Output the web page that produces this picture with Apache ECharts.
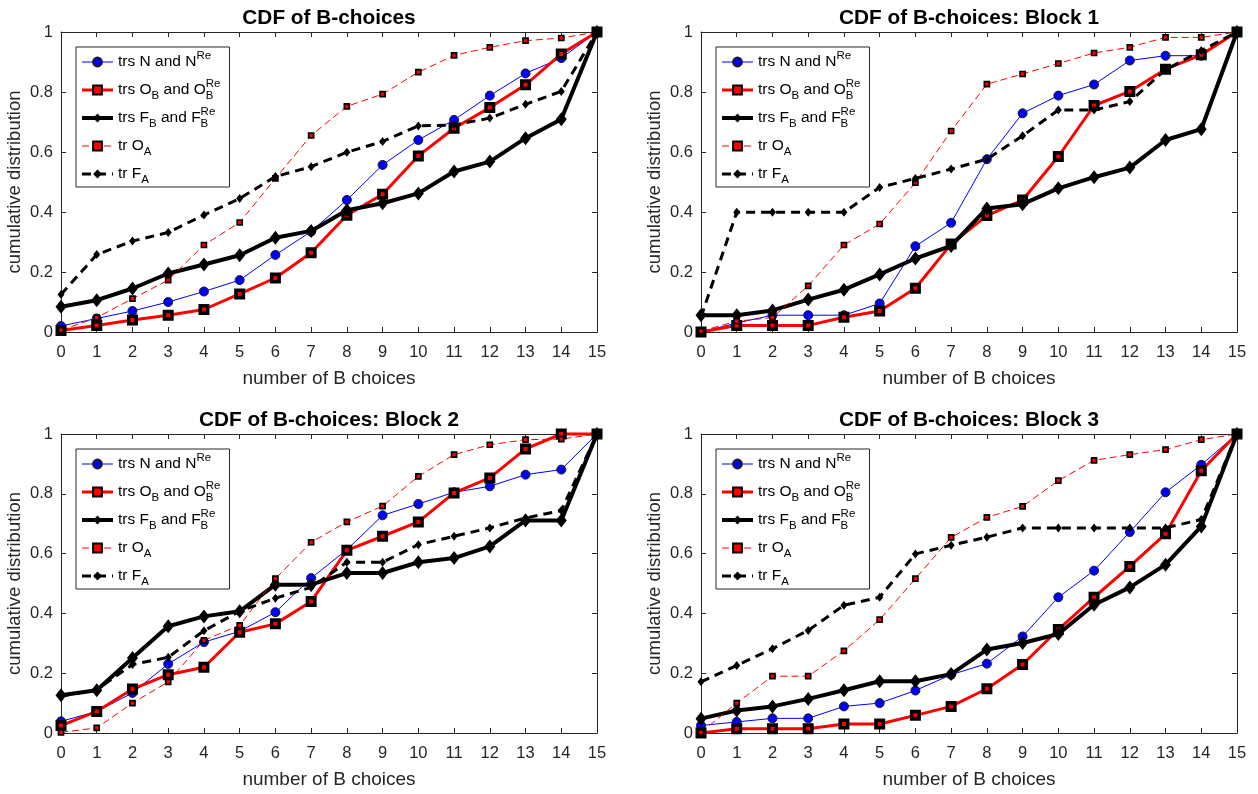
<!DOCTYPE html>
<html>
<head>
<meta charset="utf-8">
<script src="https://cdn.jsdelivr.net/npm/echarts@6/dist/echarts.min.js"></script>
<style>
  html, body { margin: 0; padding: 0; background: #fff; }
  #main { width: 1258px; height: 794px; }
</style>
</head>
<body>
<div id="main"></div>
<script>
// number of B choices
var xs = [0, 1, 2, 3, 4, 5, 6, 7, 8, 9, 10, 11, 12, 13, 14, 15];
var yTicks = [0, 0.2, 0.4, 0.6, 0.8, 1];

// all blocks
var allN  = [0.02, 0.045, 0.07, 0.10, 0.135, 0.173, 0.257, 0.335, 0.44, 0.557, 0.64, 0.707, 0.788, 0.862, 0.913, 1];
var allOB = [0.005, 0.022, 0.04, 0.056, 0.075, 0.127, 0.18, 0.264, 0.389, 0.459, 0.587, 0.679, 0.748, 0.824, 0.927, 1];
var allFB = [0.084, 0.106, 0.145, 0.195, 0.225, 0.256, 0.314, 0.337, 0.406, 0.429, 0.462, 0.535, 0.568, 0.646, 0.709, 1];
var allOA = [0.006, 0.048, 0.111, 0.173, 0.29, 0.365, 0.512, 0.655, 0.752, 0.793, 0.866, 0.922, 0.949, 0.971, 0.98, 1];
var allFA = [0.125, 0.258, 0.303, 0.332, 0.39, 0.445, 0.518, 0.551, 0.599, 0.635, 0.687, 0.69, 0.713, 0.759, 0.802, 1];

// block 1
var blk1N  = [0, 0.03, 0.056, 0.056, 0.056, 0.095, 0.286, 0.364, 0.576, 0.729, 0.788, 0.825, 0.905, 0.921, 0.921, 1];
var blk1OB = [0, 0.022, 0.022, 0.022, 0.049, 0.07, 0.146, 0.293, 0.388, 0.44, 0.585, 0.755, 0.802, 0.876, 0.924, 1];
var blk1FB = [0.056, 0.056, 0.072, 0.108, 0.141, 0.192, 0.245, 0.287, 0.412, 0.426, 0.479, 0.516, 0.548, 0.64, 0.676, 1];
var blk1OA = [0.003, 0.036, 0.048, 0.154, 0.29, 0.36, 0.498, 0.67, 0.826, 0.86, 0.895, 0.93, 0.949, 0.982, 0.982, 1];
var blk1FA = [0.05, 0.399, 0.399, 0.399, 0.399, 0.482, 0.512, 0.543, 0.576, 0.654, 0.74, 0.74, 0.768, 0.874, 0.938, 1];

// block 2
var blk2N  = [0.039, 0.072, 0.134, 0.231, 0.304, 0.34, 0.404, 0.518, 0.613, 0.728, 0.766, 0.805, 0.825, 0.864, 0.881, 1];
var blk2OB = [0.025, 0.072, 0.147, 0.195, 0.22, 0.337, 0.365, 0.44, 0.611, 0.658, 0.706, 0.803, 0.853, 0.95, 1, 1];
var blk2FB = [0.126, 0.143, 0.251, 0.357, 0.39, 0.407, 0.496, 0.496, 0.535, 0.535, 0.571, 0.585, 0.624, 0.711, 0.711, 1];
var blk2OA = [0.002, 0.017, 0.1, 0.171, 0.31, 0.36, 0.516, 0.638, 0.706, 0.759, 0.858, 0.931, 0.964, 0.981, 0.983, 1];
var blk2FA = [0.123, 0.145, 0.229, 0.253, 0.342, 0.407, 0.451, 0.487, 0.571, 0.571, 0.63, 0.658, 0.686, 0.719, 0.744, 1];

// block 3
var blk3N  = [0.025, 0.037, 0.049, 0.049, 0.089, 0.1, 0.142, 0.195, 0.232, 0.323, 0.454, 0.543, 0.672, 0.805, 0.897, 1];
var blk3OB = [0, 0.014, 0.014, 0.014, 0.03, 0.03, 0.059, 0.089, 0.148, 0.229, 0.346, 0.454, 0.557, 0.666, 0.877, 1];
var blk3FB = [0.048, 0.075, 0.089, 0.114, 0.143, 0.173, 0.173, 0.197, 0.279, 0.301, 0.331, 0.429, 0.487, 0.563, 0.691, 1];
var blk3OA = [0.002, 0.1, 0.19, 0.19, 0.275, 0.379, 0.516, 0.654, 0.721, 0.758, 0.844, 0.912, 0.931, 0.948, 0.981, 1];
var blk3FA = [0.171, 0.226, 0.282, 0.343, 0.427, 0.454, 0.599, 0.628, 0.655, 0.686, 0.686, 0.686, 0.686, 0.686, 0.714, 1];

var panels = [
  {title: 'CDF of B-choices',          left: 61,  top: 32,  d: [allN, allOB, allFB, allOA, allFA]},
  {title: 'CDF of B-choices: Block 1', left: 701, top: 32,  d: [blk1N, blk1OB, blk1FB, blk1OA, blk1FA]},
  {title: 'CDF of B-choices: Block 2', left: 61,  top: 434, d: [blk2N, blk2OB, blk2FB, blk2OA, blk2FA]},
  {title: 'CDF of B-choices: Block 3', left: 701, top: 434, d: [blk3N, blk3OB, blk3FB, blk3OA, blk3FA]}
];

var FONT = '"Liberation Sans", Arial, Helvetica, sans-serif';
var AX = '#262626';
var GW = 536, GH = 300;

// legend text with sub / superscripts
var legendText = {
  N:  'trs N and N{sup|Re}',
  OB: 'trs O{sub|B} and O{sup0|Re}{sub|B}',
  FB: 'trs F{sub|B} and F{sup0|Re}{sub|B}',
  OA: 'tr O{sub|A}',
  FA: 'tr F{sub|A}'
};

// line styles, same order as panel data
var styles = [
  {name: 'N',  lineStyle: {color: '#0000ff', width: 1, type: 'solid'},
   symbol: 'circle', symbolSize: 9, itemStyle: {color: '#0000ff', borderColor: '#1a1a1a', borderWidth: 1}},
  {name: 'OB', lineStyle: {color: '#ff0000', width: 3, type: 'solid'},
   symbol: 'rect', symbolSize: 7.5, itemStyle: {color: '#ff0000', borderColor: '#000', borderWidth: 3.5}},
  {name: 'FB', lineStyle: {color: '#000', width: 4, type: 'solid'},
   symbol: 'diamond', symbolSize: [11, 14], itemStyle: {color: '#000', borderColor: '#000', borderWidth: 0}},
  {name: 'OA', lineStyle: {color: '#ff0000', width: 1, type: [7, 4]},
   symbol: 'rect', symbolSize: 5, itemStyle: {color: '#ff0000', borderColor: '#000', borderWidth: 1.7}},
  {name: 'FA', lineStyle: {color: '#000', width: 3, type: [9, 6]},
   symbol: 'diamond', symbolSize: [7, 9], itemStyle: {color: '#000', borderColor: '#000', borderWidth: 0}}
];

function axisCommon(showLabel) {
  return {
    axisLine: {show: true, onZero: false, lineStyle: {color: AX, width: 1}},
    axisTick: {show: true, inside: true, length: 5, lineStyle: {color: AX, width: 1}},
    splitLine: {show: false},
    axisLabel: {show: showLabel, color: AX, fontSize: 16.5, fontFamily: FONT}
  };
}

var grids = [], xAxes = [], yAxes = [], series = [], titles = [], legends = [];

panels.forEach(function (p, i) {
  grids.push({left: p.left, top: p.top, width: GW, height: i < 2 ? GH : GH - 1, containLabel: false});

  var xb = axisCommon(true);
  xb.gridIndex = i; xb.type = 'value'; xb.min = 0; xb.max = 15; xb.interval = 1; xb.position = 'bottom';
  xb.axisLabel.margin = 12;
  xb.name = 'number of B choices'; xb.nameLocation = 'middle'; xb.nameGap = 37;
  xb.nameTextStyle = {color: AX, fontSize: 19, fontFamily: FONT};
  var xt = axisCommon(false);
  xt.gridIndex = i; xt.type = 'value'; xt.min = 0; xt.max = 15; xt.interval = 1; xt.position = 'top';
  xAxes.push(xb, xt);

  var yl = axisCommon(true);
  yl.gridIndex = i; yl.type = 'value'; yl.min = 0; yl.max = 1; yl.interval = 0.2; yl.position = 'left';
  yl.axisLabel.margin = 8;
  yl.name = 'cumulative distribution'; yl.nameLocation = 'middle'; yl.nameGap = 37;
  yl.nameTextStyle = {color: AX, fontSize: 18.5, fontFamily: FONT};
  var yr = axisCommon(false);
  yr.gridIndex = i; yr.type = 'value'; yr.min = 0; yr.max = 1; yr.interval = 0.2; yr.position = 'right';
  yAxes.push(yl, yr);

  titles.push({
    text: p.title, left: p.left + GW / 2 - 5, textAlign: 'center', top: p.top - 29,
    textStyle: {fontSize: 20.8, fontWeight: 'bold', color: '#000', fontFamily: FONT}
  });

  legends.push({
    orient: 'vertical', left: p.left + 15, top: p.top + 15,
    data: styles.map(function (s) {
      return {name: s.name, lineStyle: {width: s.lineStyle.width, type: s.lineStyle.type, color: s.lineStyle.color}};
    }),
    itemWidth: 31, itemHeight: 11, itemGap: 4,
    padding: [3, 9, 1, 4],
    backgroundColor: '#fff', borderColor: AX, borderWidth: 1, borderRadius: 0,
    selectedMode: false,
    formatter: function (name) { return legendText[name]; },
    textStyle: {
      color: '#000', fontSize: 15.5, fontFamily: FONT, lineHeight: 24,
      rich: {
        sub:  {fontSize: 11.5, fontFamily: FONT, color: '#000', verticalAlign: 'bottom', lineHeight: 24},
        sup:  {fontSize: 11.5, fontFamily: FONT, color: '#000', verticalAlign: 'top', lineHeight: 24},
        sup0: {fontSize: 11.5, fontFamily: FONT, color: '#000', verticalAlign: 'top', lineHeight: 24, width: 0}
      }
    }
  });

  styles.forEach(function (s, k) {
    var pts = xs.map(function (x, j) { return [x, p.d[k][j]]; });
    series.push({
      name: s.name, type: 'line', xAxisIndex: 2 * i, yAxisIndex: 2 * i,
      data: pts, symbol: s.symbol, symbolSize: s.symbolSize, showSymbol: true,
      lineStyle: s.lineStyle, itemStyle: s.itemStyle, clip: false,
      emphasis: {disabled: true}
    });
  });
});

var chart = echarts.init(document.getElementById('main'));
chart.setOption({
  animation: false,
  backgroundColor: '#fff',
  title: titles,
  legend: legends,
  grid: grids,
  xAxis: xAxes,
  yAxis: yAxes,
  series: series
});
</script>
</body>
</html>
